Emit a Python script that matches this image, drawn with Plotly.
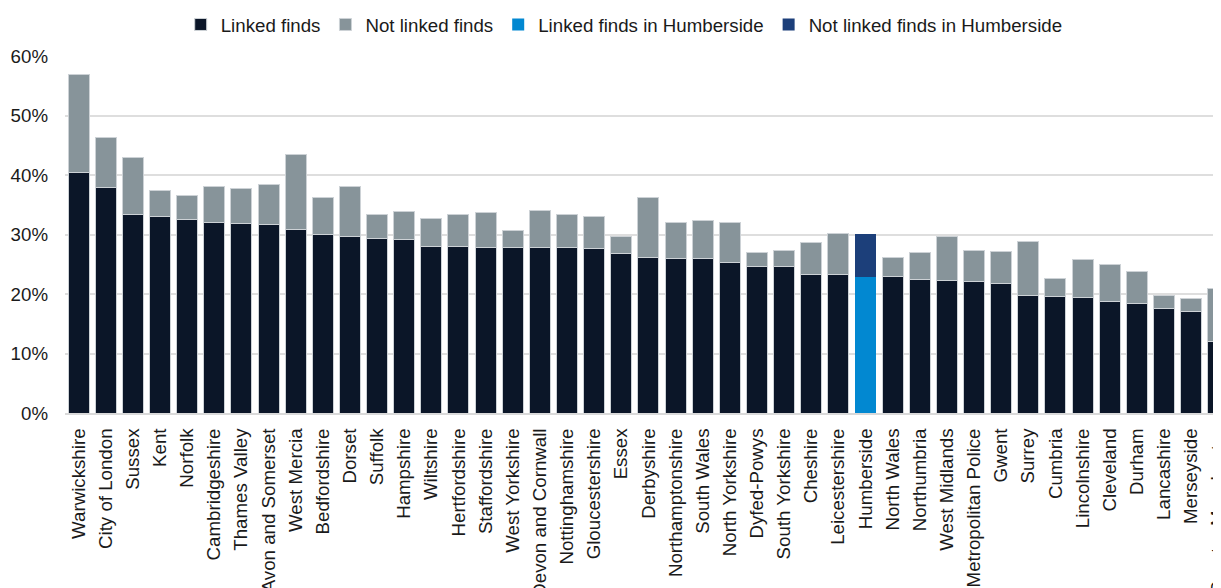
import plotly.graph_objects as go

forces = ["Warwickshire", "City of London", "Sussex", "Kent", "Norfolk", "Cambridgeshire",
          "Thames Valley", "Avon and Somerset", "West Mercia", "Bedfordshire", "Dorset",
          "Suffolk", "Hampshire", "Wiltshire", "Hertfordshire", "Staffordshire",
          "West Yorkshire", "Devon and Cornwall", "Nottinghamshire", "Gloucestershire",
          "Essex", "Derbyshire", "Northamptonshire", "South Wales", "North Yorkshire",
          "Dyfed-Powys", "South Yorkshire", "Cheshire", "Leicestershire", "Humberside",
          "North Wales", "Northumbria", "West Midlands", "Metropolitan Police", "Gwent",
          "Surrey", "Cumbria", "Lincolnshire", "Cleveland", "Durham", "Lancashire",
          "Merseyside", "Greater Manchester"]

linked = [40.5, 37.9, 33.4, 33.0, 32.6, 32.0, 31.8, 31.6, 30.8, 30.0, 29.6,
          29.3, 29.1, 28.0, 28.0, 27.9, 27.9, 27.8, 27.8, 27.6, 26.8, 26.1,
          26.0, 25.9, 25.3, 24.6, 24.6, 23.2, 23.2, 22.9, 22.9, 22.5, 22.2,
          22.1, 21.7, 19.8, 19.6, 19.4, 18.8, 18.4, 17.5, 17.0, 12.0]

not_linked = [16.4, 8.4, 9.5, 4.4, 4.0, 6.0, 6.0, 6.8, 12.6, 6.3, 8.5,
              4.1, 4.8, 4.7, 5.4, 5.8, 2.8, 6.3, 5.6, 5.5, 2.8, 10.1,
              6.1, 6.4, 6.8, 2.4, 2.7, 5.5, 6.9, 7.2, 3.3, 4.4, 7.5,
              5.2, 5.4, 9.0, 3.0, 6.4, 6.1, 5.3, 2.2, 2.2, 9.0]

highlight = "Humberside"

y_ticks = [0, 10, 20, 30, 40, 50, 60]
y_tick_labels = ["0%", "10%", "20%", "30%", "40%", "50%", "60%"]

linked_main = [None if f == highlight else v for f, v in zip(forces, linked)]
notlinked_main = [None if f == highlight else v for f, v in zip(forces, not_linked)]
linked_hi = [v if f == highlight else None for f, v in zip(forces, linked)]
notlinked_hi = [v if f == highlight else None for f, v in zip(forces, not_linked)]

outline = dict(color="rgba(205,210,214,1)", width=1)

fig = go.Figure()
fig.add_trace(go.Bar(x=forces, y=linked_main, name="Linked finds",
                     marker=dict(color="#0B1628", line=outline)))
fig.add_trace(go.Bar(x=forces, y=notlinked_main, name="Not linked finds",
                     marker=dict(color="#87949A", line=outline)))
fig.add_trace(go.Bar(x=forces, y=linked_hi, name="Linked finds in Humberside",
                     marker=dict(color="#0288D1", line=dict(width=0))))
fig.add_trace(go.Bar(x=forces, y=notlinked_hi, name="Not linked finds in Humberside",
                     marker=dict(color="#1C3F7A", line=dict(width=0))))

font_family = "Liberation Sans, Arial, sans-serif"
fs = 18.7

# page body has an 8px margin, so the figure is sized to end at the window edge
fig.update_layout(
    barmode="stack",
    bargap=0.225,
    width=1213, height=580,
    margin=dict(l=57, r=0, t=48, b=175),
    paper_bgcolor="white", plot_bgcolor="white",
    font=dict(family=font_family, size=fs, color="#1a1a1a"),
    legend=dict(orientation="h", x=0.508, xanchor="center", xref="container",
                y=0.971, yanchor="middle", yref="container",
                font=dict(size=fs, color="#1a1a1a"),
                traceorder="normal", itemclick=False),
    showlegend=True,
)

fig.update_xaxes(
    type="category",
    range=[-0.5, 42.1],
    tickangle=-90,
    tickfont=dict(size=fs, color="#1a1a1a"),
    showgrid=False,
    showline=True, linecolor="#D9D9D9", linewidth=2,
    ticks="", automargin=False,
    ticklabelstandoff=6,
)
fig.update_yaxes(
    range=[0, 60],
    tickvals=y_ticks, ticktext=y_tick_labels,
    tickfont=dict(size=fs, color="#1a1a1a"),
    showgrid=True, gridcolor="#DEDEDE", gridwidth=1.5,
    zeroline=False, showline=False, ticks="", automargin=False,
    ticklabelstandoff=16,
)

fig.write_html("out.html")
